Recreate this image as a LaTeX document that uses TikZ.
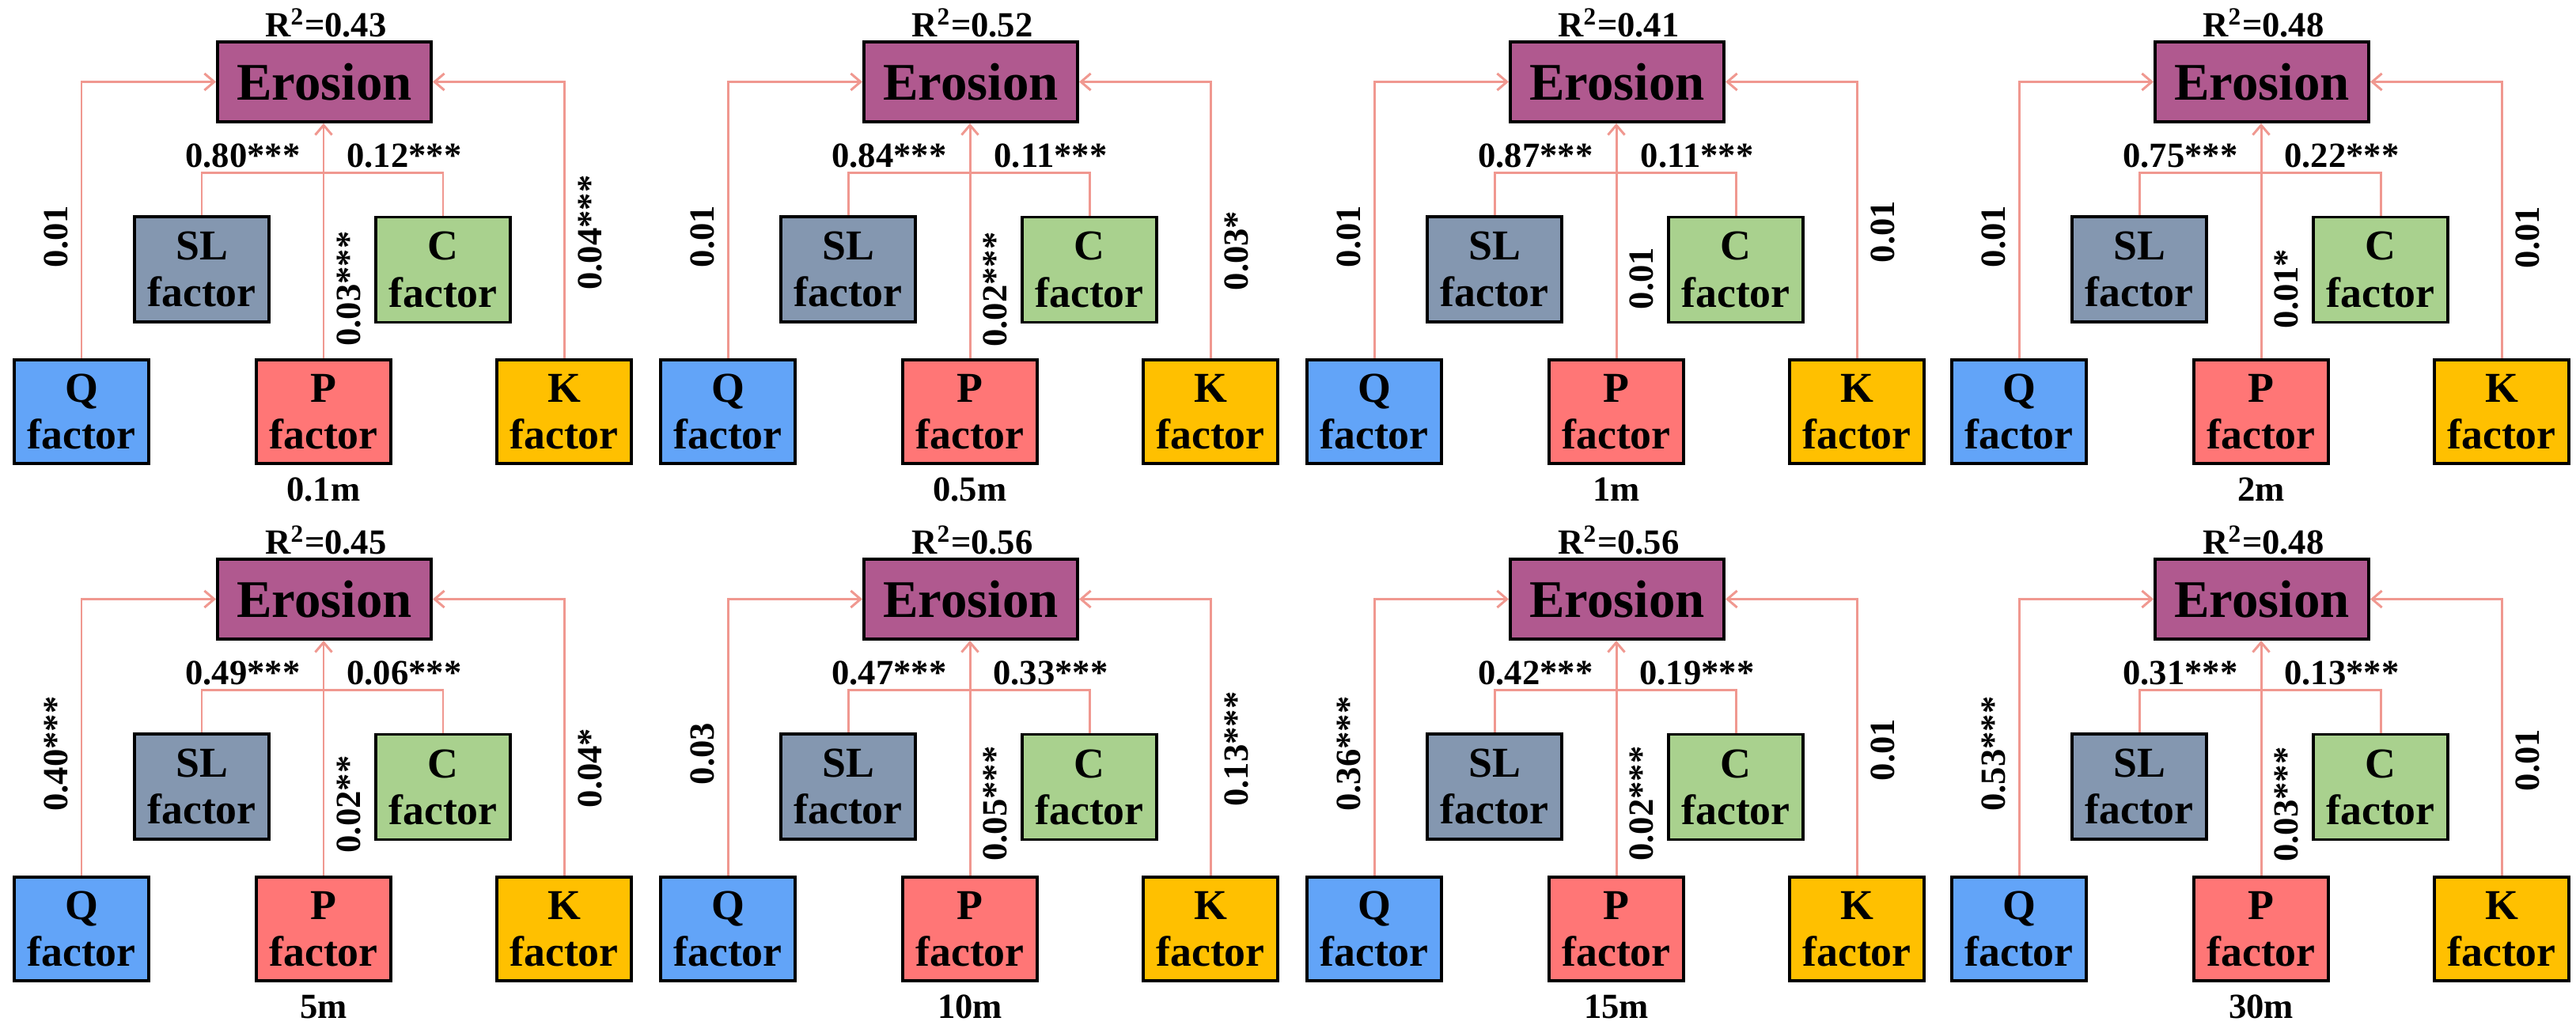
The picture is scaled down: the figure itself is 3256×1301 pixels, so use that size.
\documentclass[tikz,border=0pt]{standalone}
\usepackage{fontspec}
\setmainfont{Liberation Serif}
\usetikzlibrary{arrows.meta}
\definecolor{colEro}{HTML}{B0598F}
\definecolor{colSL}{HTML}{8497B0}
\definecolor{colC}{HTML}{A9D18E}
\definecolor{colQ}{HTML}{62A4F8}
\definecolor{colP}{HTML}{FF7676}
\definecolor{colK}{HTML}{FFC000}
\definecolor{colLink}{HTML}{F09890}
\begin{document}
\begin{tikzpicture}[x=0.01cm,y=-0.01cm,
 box/.style={draw=black,line width=1.1pt,inner sep=0pt,align=center,font=\fontsize{15.3}{16.8}\selectfont\bfseries},
 fbox/.style={box,minimum width=1.7cm,minimum height=1.31cm},
 erobox/.style={draw=black,line width=1.1pt,fill=colEro,minimum width=2.7cm,minimum height=1.01cm,inner sep=0pt,font=\fontsize{19}{20}\selectfont\bfseries},
 lab/.style={inner sep=0pt,font=\fontsize{12.7}{14}\selectfont\bfseries},
 vlab/.style={lab,rotate=90},
 link/.style={draw=colLink,line width=0.85pt},
 arr/.style={link,-{Straight Barb[length=3.5pt,width=6pt]}}]
\fill[white] (0,0) rectangle (3256,1301);
\useasboundingbox (0,0) rectangle (3256,1301);
\foreach \i/\dx/\dy/\rr/\ls/\rs/\ql/\pl/\kl/\sc/\py/\ky in {
 1/0/0/0.43/0.80***/0.12***/0.01/0.03***/0.04***/0.1m/365/294,
 2/817/0/0.52/0.84***/0.11***/0.01/0.02***/0.03*/0.5m/366/317,
 3/1634/0/0.41/0.87***/0.11***/0.01/0.01/0.01/1m/352/293,
 4/2449/0/0.48/0.75***/0.22***/0.01/0.01*/0.01/2m/365/300,
 5/0/654/0.45/0.49***/0.06***/0.40***/0.02**/0.04*/5m/363/317,
 6/817/654/0.56/0.47***/0.33***/0.03/0.05***/0.13***/10m/362/293,
 7/1634/654/0.56/0.42***/0.19***/0.36***/0.02***/0.01/15m/362/294,
 8/2449/654/0.48/0.31***/0.13***/0.53***/0.03***/0.01/30m/363/307}
{
 \begin{scope}[shift={(\dx,\dy)}]
  \node[erobox] (E\i) at (410,103.5) {Erosion};
  \node[lab,anchor=base] (R\i) at (412,47) {R\textsuperscript{2}=\rr};
  \node[fbox,fill=colQ] (Q\i) at (103,520.5) {Q\\factor};
  \node[fbox,fill=colP] (P\i) at (409,520.5) {P\\factor};
  \node[fbox,fill=colK] (K\i) at (713,520.5) {K\\factor};
  \node[fbox,fill=colSL,minimum height=1.33cm] (S\i) at (255,340.5) {SL\\factor};
  \node[fbox,fill=colC,minimum height=1.33cm] (C\i) at (560,341) {C\\factor};
  \draw[arr] (Q\i.north) |- (E\i.west);
  \draw[arr] (K\i.north) |- (E\i.east);
  \draw[arr] (P\i.north) -- (P\i.north |- E\i.south);
  \draw[link] (S\i.north) -- ++(0,-54) -| (C\i.north);
  \node[lab,anchor=base] (a\i) at (307,212) {\ls};
  \node[lab,anchor=base] (b\i) at (511,212) {\rs};
  \node[vlab] (q\i) at (71,299) {\ql};
  \node[vlab] (p\i) at (441,\py) {\pl};
  \node[vlab] (k\i) at (746,\ky) {\kl};
  \node[lab,anchor=base] (s\i) at (409,634) {\sc};
 \end{scope}
}
\end{tikzpicture}
\end{document}
